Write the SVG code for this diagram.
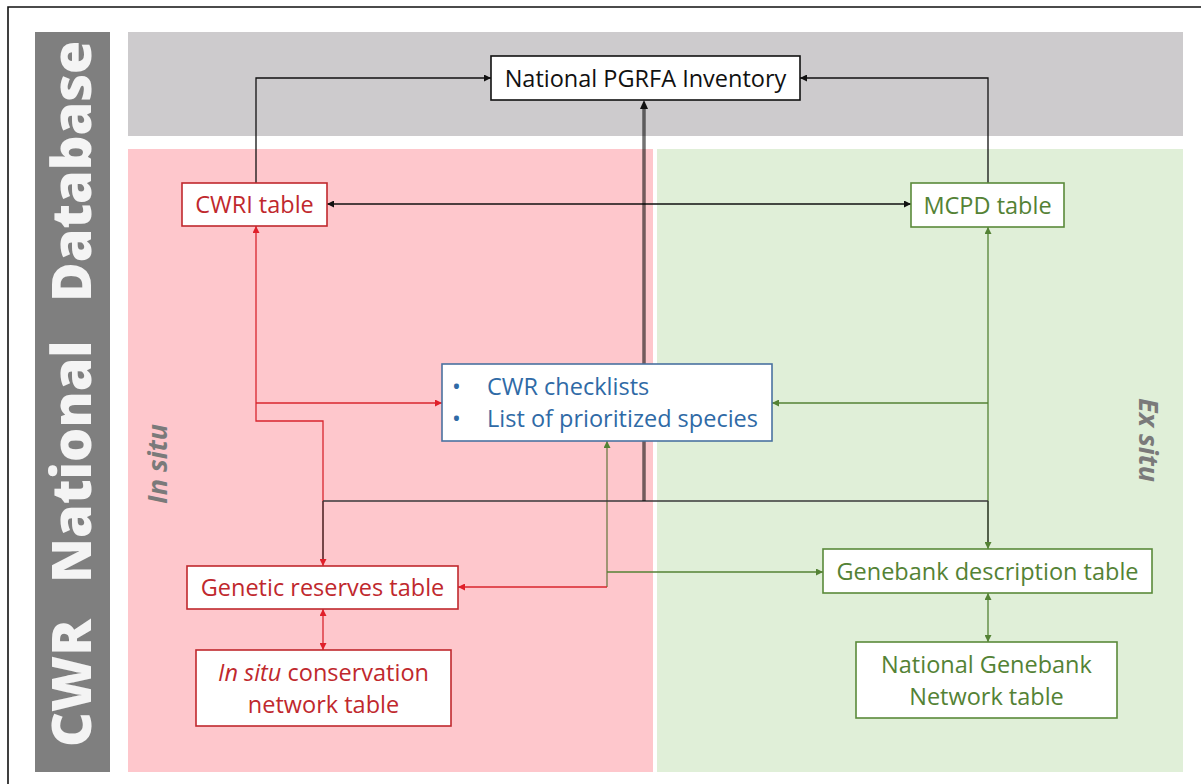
<svg xmlns="http://www.w3.org/2000/svg" width="1201" height="784" viewBox="0 0 1201 784">
<style>
.nt{font-family:"Open Sans","Liberation Sans",sans-serif;font-size:23.5px;text-anchor:middle}
.box{fill:#fff;stroke-width:1.6}
.red{stroke:#c0282d}
.grn{stroke:#5a8a3a}
.blu{stroke:#4a72a0}
.blk{stroke:#111}
.cn{fill:none;stroke-width:1.3}
.big{font-family:"Open Sans","Liberation Sans",sans-serif;font-weight:800;font-size:54px;fill:#f4f4f4}
.side{font-family:"Open Sans","Liberation Sans",sans-serif;font-weight:bold;font-style:italic;font-size:27px;fill:#7a7a7a}
</style>
<defs>
<marker id="mk" viewBox="0 0 10 10" refX="10" refY="5" markerWidth="8" markerHeight="7" markerUnits="userSpaceOnUse" orient="auto-start-reverse"><path d="M0,0L10,5L0,10z" fill="#111"/></marker>
<marker id="mr" viewBox="0 0 10 10" refX="10" refY="5" markerWidth="8" markerHeight="7" markerUnits="userSpaceOnUse" orient="auto-start-reverse"><path d="M0,0L10,5L0,10z" fill="#e0202a"/></marker>
<marker id="mg" viewBox="0 0 10 10" refX="10" refY="5" markerWidth="8" markerHeight="7" markerUnits="userSpaceOnUse" orient="auto-start-reverse"><path d="M0,0L10,5L0,10z" fill="#548235"/></marker>
</defs>
<rect x="0" y="0" width="1201" height="784" fill="#fff"/>
<path d="M8,784V7H1201" fill="none" stroke="#111" stroke-width="1.6"/>
<g id="background">
<rect x="35" y="32" width="75" height="740" fill="#7f7f7f"/>
<rect x="128" y="32" width="1055" height="104" fill="#cdcbcd"/>
<rect x="128" y="149" width="525" height="623" fill="#fec7cc"/>
<rect x="657" y="149" width="526" height="623" fill="#e0efd8"/>
<text class="big" transform="translate(91,747) rotate(-90)">CWR</text>
<text class="big" transform="translate(91,583) rotate(-90)">National</text>
<text class="big" transform="translate(91,302) rotate(-90)">Database</text>
<text class="side" transform="translate(167,504) rotate(-90)">In situ</text>
<text class="side" transform="translate(1139,398) rotate(90)">Ex situ</text>
</g>
<g id="connectors">
<path class="cn blk" d="M256,183V78H491" marker-end="url(#mk)"/>
<path class="cn blk" d="M988,183V78H800" marker-end="url(#mk)"/>
<path class="cn blk" d="M327,204H911" marker-start="url(#mk)" marker-end="url(#mk)"/>
<path class="cn red" stroke="#e0202a" d="M256,226V421H323V566" style="stroke:#d8262e" marker-start="url(#mr)" marker-end="url(#mr)"/>
<path class="cn" style="stroke:#d8262e" d="M256,403H442" marker-end="url(#mr)"/>
<path class="cn" style="stroke:#d8262e" d="M323,609V650" marker-start="url(#mr)" marker-end="url(#mr)"/>
<path class="cn" style="stroke:#548235" d="M988,227V549" marker-start="url(#mg)" marker-end="url(#mg)"/>
<path class="cn" style="stroke:#548235" d="M988,403H772" marker-end="url(#mg)"/>
<path class="cn" style="stroke:#548235" d="M988,593V642" marker-start="url(#mg)" marker-end="url(#mg)"/>
<path class="cn" style="stroke:#6e7a45" d="M607,587V441" marker-end="url(#mg)"/>
<path class="cn" style="stroke:#548235" d="M607,572H823" marker-end="url(#mg)"/>
<path class="cn" style="stroke:#d8262e" d="M607,587H458" marker-end="url(#mr)"/>
<path class="cn" style="stroke:#3a3a3a" d="M323,501H988M323,501V559M988,501V542"/>
<path fill="none" stroke="#000" stroke-opacity="0.55" stroke-width="3.5" d="M644,501V108"/>
<path fill="#111" d="M644,100L640,109H648z"/>
</g>
<g id="n-pgrfa">
<rect class="box blk" x="491" y="56" width="309" height="44"/>
<text class="nt" x="645.5" y="86.5" fill="#111">National PGRFA Inventory</text>
</g>
<g id="n-cwri">
<rect class="box red" x="182" y="183" width="145" height="43"/>
<text class="nt" x="254.5" y="213" fill="#c0282d">CWRI table</text>
</g>
<g id="n-mcpd">
<rect class="box grn" x="911" y="183" width="153" height="44"/>
<text class="nt" x="987.5" y="213.5" fill="#548235">MCPD table</text>
</g>
<g id="n-checklists">
<rect class="box blu" x="442" y="364" width="330" height="77"/>
<text class="nt" style="text-anchor:start" fill="#2f6aa6"><tspan x="452" y="395">•</tspan><tspan x="487" y="395">CWR checklists</tspan><tspan x="452" y="427">•</tspan><tspan x="487" y="427">List of prioritized species</tspan></text>
</g>
<g id="n-reserves">
<rect class="box red" x="187" y="566" width="271" height="43"/>
<text class="nt" x="322.5" y="596" fill="#c0282d">Genetic reserves table</text>
</g>
<g id="n-insitu">
<rect class="box red" x="196" y="650" width="255" height="76"/>
<text class="nt" fill="#c0282d"><tspan x="323.5" y="680.5"><tspan font-style="italic">In situ</tspan> conservation</tspan><tspan x="323.5" y="712.5">network table</tspan></text>
</g>
<g id="n-genebank">
<rect class="box grn" x="823" y="549" width="329" height="44"/>
<text class="nt" x="987.5" y="579.5" fill="#548235">Genebank description table</text>
</g>
<g id="n-ngn">
<rect class="box grn" x="856" y="642" width="261" height="76"/>
<text class="nt" fill="#548235"><tspan x="986.5" y="672.5">National Genebank</tspan><tspan x="986.5" y="704.5">Network table</tspan></text>
</g>
</svg>
